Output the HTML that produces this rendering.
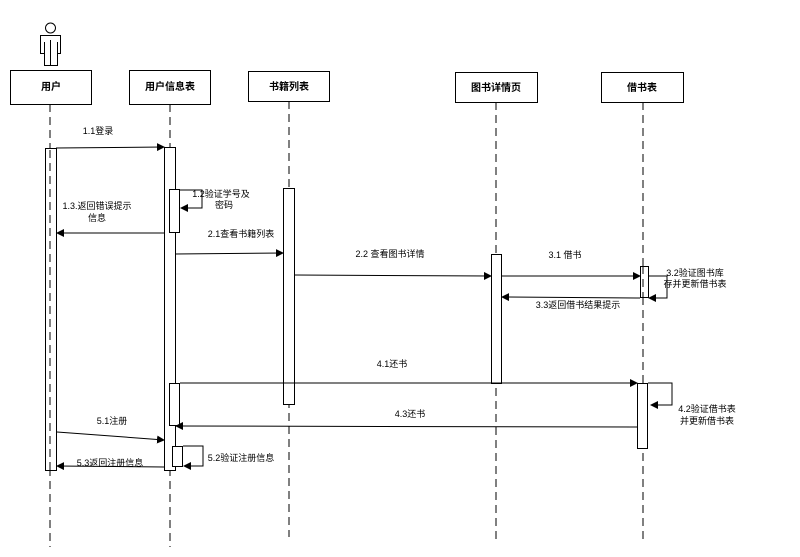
<!DOCTYPE html>
<html><head><meta charset="utf-8"><style>
html,body{margin:0;padding:0;background:#fff;width:800px;height:557px;overflow:hidden}
text{font-family:"Liberation Sans","Noto Sans CJK SC",sans-serif;font-size:9px;fill:#000}
.b{font-weight:bold;font-size:10px}
</style></head><body>
<svg width="800" height="557" viewBox="0 0 800 557" xmlns="http://www.w3.org/2000/svg">
<defs><marker id="a" markerWidth="8" markerHeight="8" refX="7" refY="4" orient="auto" markerUnits="userSpaceOnUse"><path d="M0,0 L8,4 L0,8 z" fill="#000"/></marker></defs>
<g stroke="#000" stroke-width="1" fill="none">
<!-- actor -->
<circle cx="50.5" cy="28" r="5"/>
<path d="M40.5,35.5 H60.5 V53.5 H57.5 V65.5 H44.5 V53.5 H40.5 Z M50.5,40 V65.5 M44.5,42 V53.5 M57.5,42 V53.5"/>
<!-- lifelines -->
<g stroke-dasharray="8,5">
<line x1="50" y1="104" x2="50" y2="547"/>
<line x1="170" y1="104" x2="170" y2="547"/>
<line x1="289" y1="101" x2="289" y2="537"/>
<line x1="496" y1="102" x2="496" y2="540"/>
<line x1="643" y1="102" x2="643" y2="540"/>
</g>
</g>
<g stroke="#000" stroke-width="1" fill="#fff">
<rect x="10.5" y="70.5" width="81" height="34"/>
<rect x="129.5" y="70.5" width="81" height="34"/>
<rect x="248.5" y="71.5" width="81" height="30"/>
<rect x="455.5" y="72.5" width="82" height="30"/>
<rect x="601.5" y="72.5" width="82" height="30"/>
<rect x="45.5" y="148.5" width="11" height="322"/>
<rect x="164.5" y="147.5" width="11" height="323"/>
<rect x="283.5" y="188.5" width="11" height="216"/>
<rect x="491.5" y="254.5" width="10" height="129"/>
<rect x="637.5" y="383.5" width="10" height="65"/>
</g>
<line x1="50" y1="150" x2="50" y2="470" stroke="#000" stroke-dasharray="8,5"/>
<g stroke="#000" stroke-width="1" fill="#fff">
<rect x="169.5" y="189.5" width="10" height="43"/>
<rect x="169.5" y="383.5" width="10" height="42"/>
<rect x="172.5" y="446.5" width="10" height="20"/>
<rect x="640.5" y="266.5" width="8" height="31"/>
</g>
<line x1="643" y1="266" x2="643" y2="298" stroke="#000" stroke-dasharray="8,5"/>
<g stroke="#000" stroke-width="1" fill="none" marker-end="url(#a)">
<line x1="56" y1="148" x2="164" y2="147"/>
<path d="M180,190 H202 V208 H181"/>
<line x1="164" y1="233" x2="57" y2="233"/>
<line x1="175" y1="254" x2="283" y2="253"/>
<line x1="295" y1="275" x2="491" y2="276"/>
<line x1="501" y1="276" x2="640" y2="276"/>
<path d="M648,276 H667 V298 H649"/>
<line x1="640" y1="298" x2="502" y2="297"/>
<line x1="180" y1="383" x2="637" y2="383"/>
<path d="M648,383 H672 V405 H651"/>
<line x1="637" y1="427" x2="176" y2="426"/>
<line x1="57" y1="432" x2="164" y2="440"/>
<path d="M183,446 H203 V466 H184"/>
<line x1="164" y1="467" x2="57" y2="466"/>
</g>
<text class="b" x="51" y="90" text-anchor="middle">用户</text>
<text class="b" x="170" y="90" text-anchor="middle">用户信息表</text>
<text class="b" x="289" y="90" text-anchor="middle">书籍列表</text>
<text class="b" x="496" y="91" text-anchor="middle">图书详情页</text>
<text class="b" x="642" y="91" text-anchor="middle">借书表</text>
<text x="98" y="134" text-anchor="middle">1.1登录</text>
<text x="221" y="197" text-anchor="middle">1.2验证学号及</text>
<text x="224" y="208" text-anchor="middle">密码</text>
<text x="97" y="209" text-anchor="middle">1.3.返回错误提示</text>
<text x="97" y="221" text-anchor="middle">信息</text>
<text x="241" y="237" text-anchor="middle">2.1查看书籍列表</text>
<text x="390" y="257" text-anchor="middle">2.2 查看图书详情</text>
<text x="565" y="258" text-anchor="middle">3.1 借书</text>
<text x="695" y="276" text-anchor="middle">3.2验证图书库</text>
<text x="695" y="287" text-anchor="middle">存并更新借书表</text>
<text x="578" y="308" text-anchor="middle">3.3返回借书结果提示</text>
<text x="392" y="367" text-anchor="middle">4.1还书</text>
<text x="707" y="412" text-anchor="middle">4.2验证借书表</text>
<text x="707" y="424" text-anchor="middle">并更新借书表</text>
<text x="410" y="417" text-anchor="middle">4.3还书</text>
<text x="112" y="424" text-anchor="middle">5.1注册</text>
<text x="241" y="461" text-anchor="middle">5.2验证注册信息</text>
<text x="110" y="466" text-anchor="middle">5.3返回注册信息</text>
</svg>
</body></html>
